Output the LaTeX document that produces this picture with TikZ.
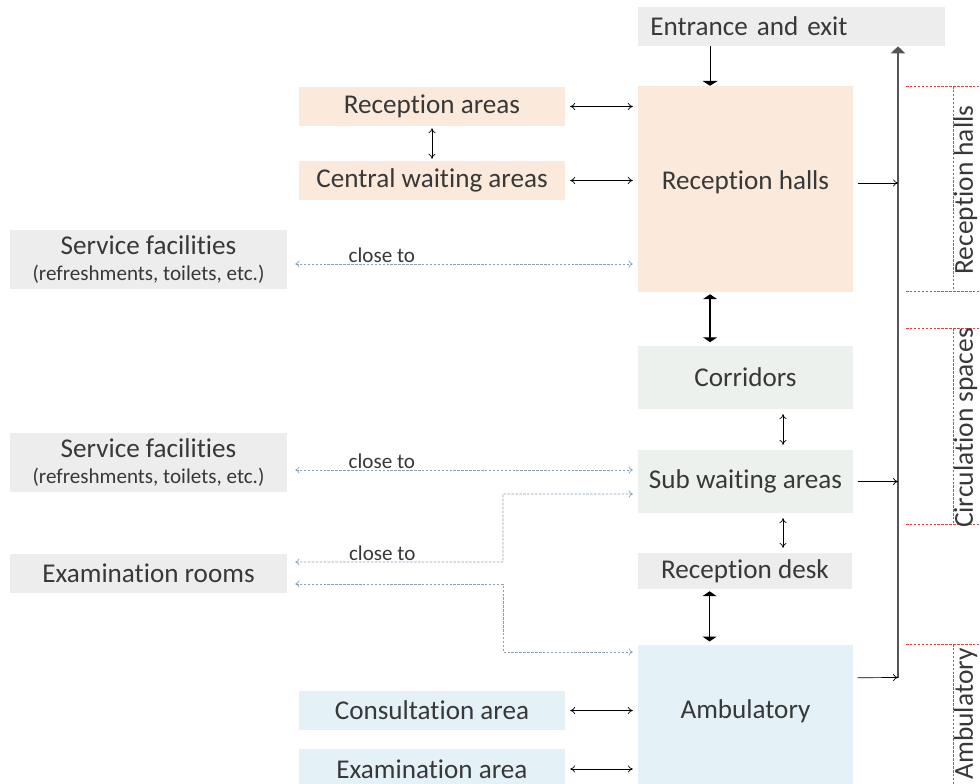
\documentclass[tikz,border=0pt]{standalone}
\usepackage{fontspec}
\setmainfont{Carlito}[Ligatures=NoCommon]
\usetikzlibrary{arrows.meta}

\definecolor{peachfill}{HTML}{FBEADB}
\definecolor{greenfill}{HTML}{EDF1EE}
\definecolor{greyfill}{HTML}{EDEDED}
\definecolor{bluefill}{HTML}{E4F2F7}
\definecolor{inkgrey}{HTML}{383838}
\definecolor{linkblue}{HTML}{8A9FB2}
\definecolor{zonered}{HTML}{D9463E}
\definecolor{busgrey}{HTML}{555555}

\tikzset{
  area/.style={rectangle, inner sep=0pt, text=inkgrey, font=\fontsize{19.3}{22}\selectfont},
  hall/.style={area, minimum width=5.375cm},
  side/.style={area, minimum width=6.65cm, minimum height=0.975cm},
  extra/.style={area, fill=greyfill, minimum width=6.925cm, align=center},
  both/.style={{To[length=3.5pt,width=5pt]}-{To[length=3.5pt,width=5pt]}, line width=0.5pt, shorten <=3.5pt, shorten >=3.5pt},
  heavy/.style={{Triangle[length=3.5pt,width=10pt]}-{Triangle[length=3.5pt,width=10pt]}, line width=1.3pt, shorten <=1.4pt, shorten >=2.5pt},
  tobus/.style={-{To[length=3.5pt,width=5pt]}, line width=0.5pt, shorten <=3pt},
  near/.style={linkblue, line width=0.5pt, dash pattern=on 1.8pt off 1pt, {To[length=3pt,width=5pt]}-{To[length=3pt,width=5pt]}, shorten <=5.7pt, shorten >=3.5pt},
  closelbl/.style={above, inner sep=1pt, text=inkgrey, font=\fontsize{15}{17}\selectfont},
  zone/.style={zonered, line width=0.6pt, dash pattern=on 1.8pt off 1pt},
  zonelbl/.style={rotate=90, inner sep=0pt, text=inkgrey, font=\fontsize{19.5}{22}\selectfont}
}
\newcommand{\sublabel}[1]{\\[-4pt]{\fontsize{15}{17}\selectfont #1}}

\begin{document}
\begin{tikzpicture}[x=0.25cm,y=-0.25cm]
\useasboundingbox (0,0) rectangle (98,78.4);
\clip (0,0) rectangle (98,78.4);

% main column
\node[area, fill=greyfill, anchor=west, minimum width=7.675cm, minimum height=0.975cm,
      text width=7.075cm, inner xsep=0.3cm, align=left] (entry) at (63.8,2.65) {Entrance and exit};
\node[hall, fill=peachfill, text height=2.575cm, text depth=2.575cm] (halls) at (74.55,18.9) {Reception halls};
\node[hall, fill=greenfill, minimum height=1.575cm] (corr) at (74.55,37.75) {Corridors};
\node[hall, fill=greenfill, minimum height=1.575cm] (subw) at (74.55,48.15) {Sub waiting areas};
\node[hall, fill=greyfill, minimum width=5.35cm, minimum height=0.9cm] (desk) at (74.5,57.1) {Reception desk};
\node[hall, fill=bluefill, anchor=north, text height=1.825cm, text depth=2cm] (amb) at (74.55,64.5) {Ambulatory};

% areas beside the halls and the ambulatory
\node[side, fill=peachfill] (recp) at (43.2,10.65) {Reception areas};
\node[side, fill=peachfill] (cwait) at (43.2,18.05) {Central waiting areas};
\node[side, fill=bluefill] (consult) at (43.2,71.05) {Consultation area};
\node[side, fill=bluefill, minimum height=1cm] (exama) at (43.2,76.9) {Examination area};

% facilities on the far left
\node[extra, minimum height=1.475cm] (serv1) at (14.85,25.95) {Service facilities\sublabel{(refreshments, toilets, etc.)}};
\node[extra, minimum height=1.475cm] (serv2) at (14.85,46.25) {Service facilities\sublabel{(refreshments, toilets, etc.)}};
\node[extra, minimum height=0.975cm] (rooms) at (14.85,57.35) {Examination rooms};

% way out
\coordinate (busend) at (89.8,67.75);
\coordinate (bendup) at (50.3,56.2);
\coordinate (bendlo) at (50.3,65.2);
\draw[busgrey, line width=0.9pt, -{Triangle[length=5pt,width=10pt]}] (busend) -- (busend |- entry.south);
\draw[tobus] ([yshift=4.3pt]halls.east) -- ([yshift=4.3pt]halls.east -| busend);
\draw[tobus] (subw.east) -- (subw.east -| busend);
\draw[tobus] ([yshift=-23.3pt]amb.north east) -- (busend);

% links
\draw[-{Triangle[length=3.5pt,width=11pt]}, line width=0.6pt] ([xshift=-25.2pt]halls.north |- entry.south) -- ([xshift=-25.2pt]halls.north);
\draw[heavy] ([xshift=-25.2pt]halls.south) -- ([xshift=-25.2pt]corr.north);
\draw[heavy] ([xshift=-25.2pt]desk.south) -- ([xshift=-25.2pt]desk.south |- amb.north);
\draw[both] ([xshift=26.7pt]corr.south) -- ([xshift=26.7pt]subw.north);
\draw[both] ([xshift=26.7pt]subw.south) -- ([xshift=26.7pt]subw.south |- desk.north);
\draw[both] (recp.east) -- (recp.east -| halls.west);
\draw[both] (cwait.east) -- (cwait.east -| halls.west);
\draw[both, shorten <=1.4pt, shorten >=1.4pt] (recp.south) -- (cwait.north);
\draw[both] (consult.east) -- (consult.east -| amb.west);
\draw[both] (exama.east) -- (exama.east -| amb.west);

\draw[near] ([yshift=-3.2pt]serv1.east) -- node[closelbl, pos=0.27]{close to} ([yshift=-3.2pt]serv1.east -| halls.west);
\draw[near] ([yshift=-5.3pt]serv2.east) -- node[closelbl, pos=0.27]{close to} ([yshift=-5.3pt]serv2.east -| subw.west);
\draw[near] ([yshift=8.2pt]rooms.east) -- node[closelbl, pos=0.44]{close to} (bendup) |- ([yshift=-8.9pt]subw.west);
\draw[near] ([yshift=-7.5pt]rooms.east) -| (bendlo) -- (bendlo -| amb.west);

% zones on the right
\foreach \top/\bot in {8.6/29.1, 32.8/52.4, 64.4/80} {
  \draw[zone] (90.6,\top) -- (98,\top);
  \draw[zone] (95.3,\top) -- (95.3,\bot);
  \draw[zone] (90.6,\bot) -- (98,\bot);
}
\node[zonelbl] (zhalls) at (96.55,19.0) {Reception halls};
\node[zonelbl] (zcirc) at (96.55,42.8) {Circulation spaces};
\node[zonelbl] (zamb) at (96.55,71.4) {Ambulatory};
\end{tikzpicture}
\end{document}
